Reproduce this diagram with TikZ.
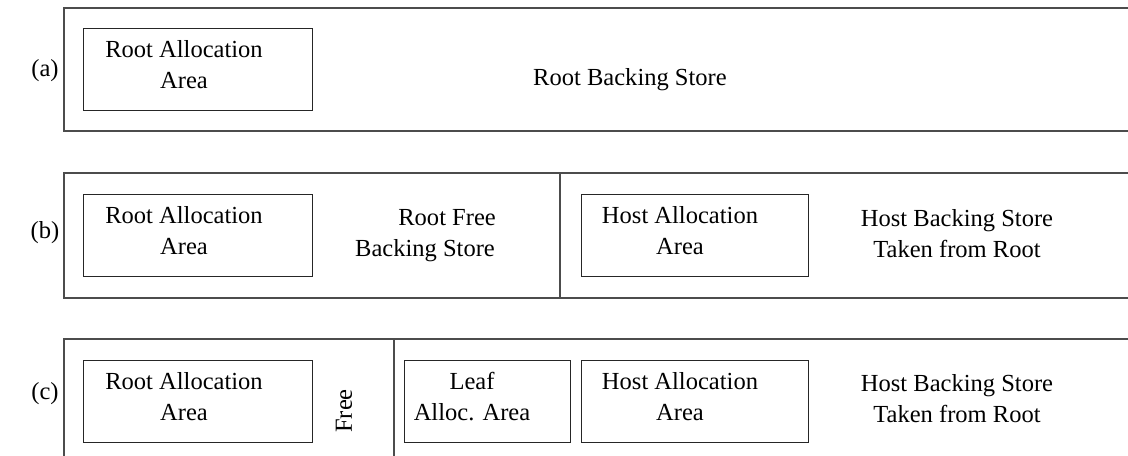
\documentclass[tikz,border=0pt]{standalone}
\usepackage{fontspec}
\setmainfont{Liberation Serif}
\begin{document}
\begin{tikzpicture}[x=0.75pt,y=-0.75pt,
  outer/.style={draw=black!70, line width=0.9pt},
  inbox/.style={draw=black!85, line width=0.75pt, minimum height=61.5pt, inner sep=0pt},
  txt/.style={align=center, inner sep=0pt, font=\fontsize{18.4}{23.3}\selectfont},
  sep/.style={draw=black!70, line width=0.9pt}]
\clip (0,0) rectangle (1128,456);
\fill[white] (0,0) rectangle (1128,456);
% row a
\draw[outer] (1140,8) -- (64,8) -- (64,131) -- (1140,131);
\node[txt] (la) at (45,71) {(a)};
\node[inbox, minimum width=171.75pt] (ra) at (197.5,70) {};
\node[txt] (ta) at (184,65) {Root Allocation\\Area};
\node[txt] (rbs) at (630,80) {Root Backing Store};
% row b
\draw[outer] (1140,173) -- (64,173) -- (64,298) -- (1140,298);
\coordinate (bdt) at (560,173);
\coordinate (bdb) at (560,298);
\draw[sep] (bdt) -- (bdb);
\node[txt] (lb) at (45,233) {(b)};
\node[inbox, minimum width=171.75pt] (rb) at (197.5,235.5) {};
\node[txt] (tb) at (184,231) {Root Allocation\\Area};
\node[txt] (fb) at (425,236) {\hspace*{1.8em}Root Free\\Backing Store};
\node[inbox, minimum width=170.25pt] (hb) at (694.5,235.5) {};
\node[txt] (thb) at (680,231) {Host Allocation\\Area};
\node[txt] (hbs) at (957,234) {Host Backing Store\\Taken from Root};
% row c
\draw[outer] (1140,339) -- (64,339) -- (64,470);
\coordinate (cdt) at (394,339);
\coordinate (cdb) at (394,470);
\draw[sep] (cdt) -- (cdb);
\node[txt] (lc) at (45,394) {(c)};
\node[inbox, minimum width=171.75pt] (rc) at (197.5,401.5) {};
\node[txt] (tc) at (184,397) {Root Allocation\\Area};
\node[txt, rotate=90] (fc) at (344,411) {Free};
\node[inbox, minimum width=124.5pt] (lfc) at (487,401.5) {};
\node[txt] (tlf) at (472,397) {Leaf\\Alloc. Area};
\node[inbox, minimum width=170.25pt] (hc) at (694.5,401.5) {};
\node[txt] (thc) at (680,397) {Host Allocation\\Area};
\node[txt] (hcs) at (957,399) {Host Backing Store\\Taken from Root};
\end{tikzpicture}
\end{document}
